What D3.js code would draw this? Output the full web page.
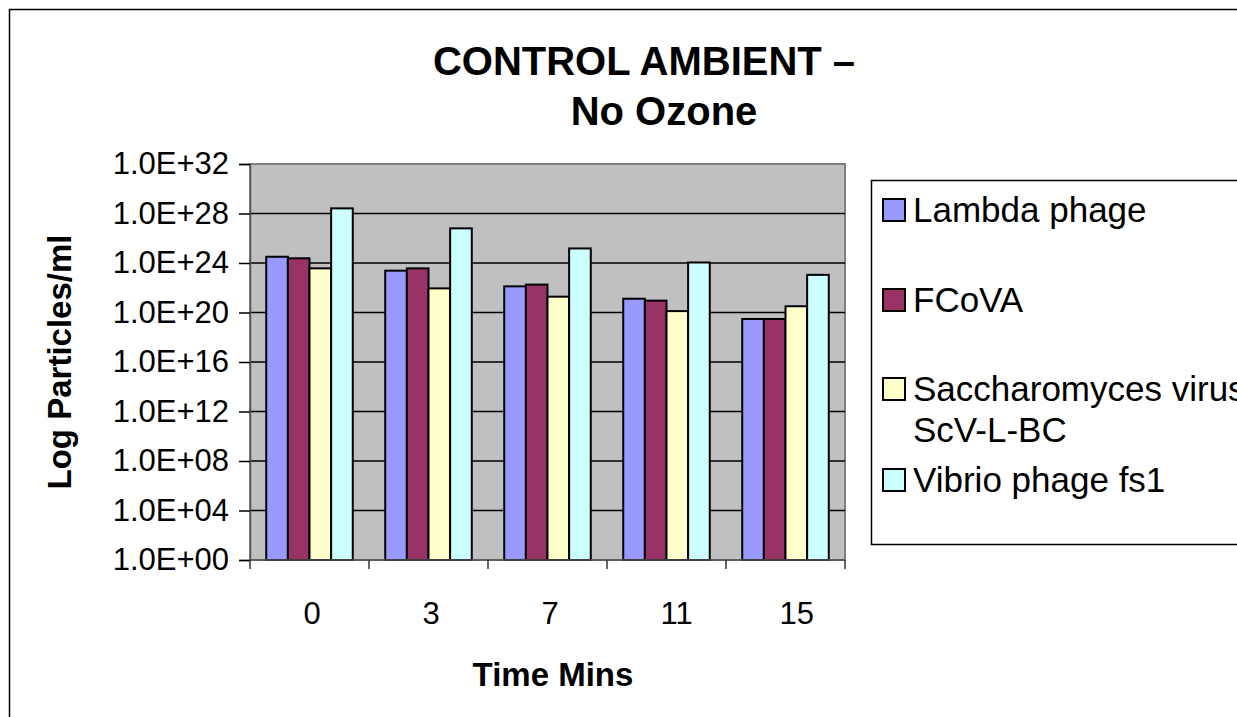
<!DOCTYPE html>
<html>
<head>
<meta charset="utf-8">
<script src="https://cdn.jsdelivr.net/npm/d3@7"></script>
<style>
  body { margin: 0; background: #fff; }
  svg { display: block; font-family: Arial, 'Liberation Sans', sans-serif; }
</style>
</head>
<body>
<div id="chart"></div>
<script>
/* ------------------------------- data ------------------------------- */
var categories = ['0', '3', '7', '11', '15'];
var seriesNames = ['Lambda phage', 'FCoVA', 'Saccharomyces virus', 'Vibrio phage fs1'];
var lambdaPhage = [3.2e24, 2.4e23, 1.3e22, 1.3e21, 3.0e19];
var fcova = [2.4e24, 3.7e23, 1.8e22, 9.1e20, 3.0e19];
var saccharomyces = [3.7e23, 8.9e21, 1.9e21, 1.3e20, 3.2e20];
var vibrioPhage = [2.6e28, 6.3e26, 1.5e25, 1.1e24, 1.1e23];
var yTicks = [1e0, 1e4, 1e8, 1e12, 1e16, 1e20, 1e24, 1e28, 1e32];
var yTickLabels = ['1.0E+00', '1.0E+04', '1.0E+08', '1.0E+12', '1.0E+16', '1.0E+20', '1.0E+24', '1.0E+28', '1.0E+32'];

/* ------------------------------- settings ------------------------------- */
var width = 1237;
var height = 717;
var plot = { left: 250, right: 845, top: 164, bottom: 560 };
var colors = ['#9999FF', '#993366', '#FFFFCC', '#CCFFFF'];
var allSeries = [lambdaPhage, fcova, saccharomyces, vibrioPhage];

var svg = d3.select('#chart').append('svg')
    .attr('width', width)
    .attr('height', height);

// chart border (cut off at right/bottom like the picture)
svg.append('rect')
    .attr('x', 9.5).attr('y', 9.5)
    .attr('width', width + 20).attr('height', height + 20)
    .attr('fill', '#fff')
    .attr('stroke', '#000')
    .attr('stroke-width', 1.5);

/* ------------------------------- scales ------------------------------- */
var x0 = d3.scaleBand()
    .domain(categories)
    .range([plot.left, plot.right])
    .paddingInner(1.5 / 5.5)
    .paddingOuter(0.75 / 5.5);
var x1 = d3.scaleBand()
    .domain(seriesNames)
    .range([0, x0.bandwidth()]);
var y = d3.scaleLog()
    .domain([yTicks[0], yTicks[yTicks.length - 1]])
    .range([plot.bottom, plot.top]);

/* ------------------------------- plot area ------------------------------- */
svg.append('rect')
    .attr('x', plot.left).attr('y', plot.top)
    .attr('width', plot.right - plot.left)
    .attr('height', plot.bottom - plot.top)
    .attr('fill', '#C0C0C0')
    .attr('stroke', '#808080')
    .attr('stroke-width', 2);

// grid lines
svg.append('g')
    .selectAll('line')
    .data(yTicks.slice(1, -1))
    .enter()
    .append('line')
    .attr('x1', plot.left).attr('x2', plot.right)
    .attr('y1', function(d) { return y(d); })
    .attr('y2', function(d) { return y(d); })
    .attr('stroke', '#000')
    .attr('stroke-width', 1.5);

/* ------------------------------- bars ------------------------------- */
var groups = svg.append('g')
    .selectAll('g')
    .data(categories)
    .enter()
    .append('g')
    .attr('transform', function(d) { return 'translate(' + x0(d) + ',0)'; });

groups.selectAll('rect')
    .data(function(d, i) {
        return seriesNames.map(function(name, s) {
            return { name: name, value: allSeries[s][i], color: colors[s] };
        });
    })
    .enter()
    .append('rect')
    .attr('x', function(d) { return x1(d.name); })
    .attr('y', function(d) { return y(d.value); })
    .attr('width', x1.bandwidth())
    .attr('height', function(d) { return y(1) - y(d.value); })
    .attr('fill', function(d) { return d.color; })
    .attr('stroke', '#000')
    .attr('stroke-width', 2);

/* ------------------------------- axes ------------------------------- */
var yAxis = d3.axisLeft(y)
    .tickValues(yTicks)
    .tickSize(11)
    .tickPadding(10)
    .tickFormat(function(d, i) { return yTickLabels[i]; });
var yAxisG = svg.append('g')
    .attr('transform', 'translate(' + plot.left + ',0)')
    .call(yAxis);
yAxisG.select('.domain').attr('stroke', '#555').attr('stroke-width', 1.5);
yAxisG.selectAll('.tick line').attr('stroke', '#000').attr('stroke-width', 1.5);
yAxisG.selectAll('.tick text')
    .attr('font-size', 31)
    .attr('font-family', 'Arial, Liberation Sans, sans-serif')
    .attr('fill', '#000');

// category boundaries for x ticks
var xBoundaries = categories.map(function(c) { return x0(c) - x0.step() * x0.paddingOuter(); });
xBoundaries.push(plot.right);
var xAxisG = svg.append('g');
xAxisG.append('line')
    .attr('x1', plot.left).attr('x2', plot.right)
    .attr('y1', plot.bottom).attr('y2', plot.bottom)
    .attr('stroke', '#555').attr('stroke-width', 1.5);
xAxisG.selectAll('line.tick')
    .data(xBoundaries)
    .enter()
    .append('line')
    .attr('class', 'tick')
    .attr('x1', function(d) { return d; })
    .attr('x2', function(d) { return d; })
    .attr('y1', plot.bottom)
    .attr('y2', plot.bottom + 9)
    .attr('stroke', '#333').attr('stroke-width', 1.5);
// labels start a little left of the category centre (as Excel placed them)
xAxisG.selectAll('text')
    .data(categories)
    .enter()
    .append('text')
    .attr('x', function(d) { return x0(d) + x0.bandwidth() / 2 - 6; })
    .attr('y', 624)
    .attr('text-anchor', 'start')
    .attr('font-size', 31)
    .text(function(d) { return d; });

/* ------------------------------- titles ------------------------------- */
svg.append('text')
    .attr('x', 644).attr('y', 75)
    .attr('text-anchor', 'middle')
    .attr('font-size', 40)
    .attr('font-weight', 'bold')
    .text('CONTROL AMBIENT –');
svg.append('text')
    .attr('x', 664).attr('y', 125)
    .attr('text-anchor', 'middle')
    .attr('font-size', 40)
    .attr('font-weight', 'bold')
    .text('No Ozone');

svg.append('text')
    .attr('x', 553).attr('y', 686)
    .attr('text-anchor', 'middle')
    .attr('font-size', 33)
    .attr('font-weight', 'bold')
    .text('Time Mins');

svg.append('text')
    .attr('transform', 'translate(71,' + ((plot.top + plot.bottom) / 2) + ') rotate(-90)')
    .attr('text-anchor', 'middle')
    .attr('font-size', 33)
    .attr('font-weight', 'bold')
    .text('Log Particles/ml');

/* ------------------------------- legend ------------------------------- */
var legendLines = [['Lambda phage'], ['FCoVA'], ['Saccharomyces virus', 'ScV-L-BC'], ['Vibrio phage fs1']];
var legendBaselines = [222, 312, 401, 492];
var legend = svg.append('g');
legend.append('rect')
    .attr('x', 871.5).attr('y', 180.5)
    .attr('width', 400).attr('height', 364)
    .attr('fill', '#fff')
    .attr('stroke', '#000')
    .attr('stroke-width', 1.5);
var legendItems = legend.selectAll('g')
    .data(seriesNames)
    .enter()
    .append('g')
    .attr('transform', function(d, i) { return 'translate(883,' + legendBaselines[i] + ')'; });
legendItems.append('rect')
    .attr('x', 0).attr('y', -23)
    .attr('width', 22).attr('height', 22)
    .attr('fill', function(d, i) { return colors[i]; })
    .attr('stroke', '#000')
    .attr('stroke-width', 2);
legendItems.append('text')
    .attr('x', 30).attr('y', 0)
    .attr('font-size', 35)
    .selectAll('tspan')
    .data(function(d, i) { return legendLines[i]; })
    .enter()
    .append('tspan')
    .attr('x', 30)
    .attr('dy', function(d, j) { return j === 0 ? 0 : 41; })
    .text(function(d) { return d; });
</script>
</body>
</html>
